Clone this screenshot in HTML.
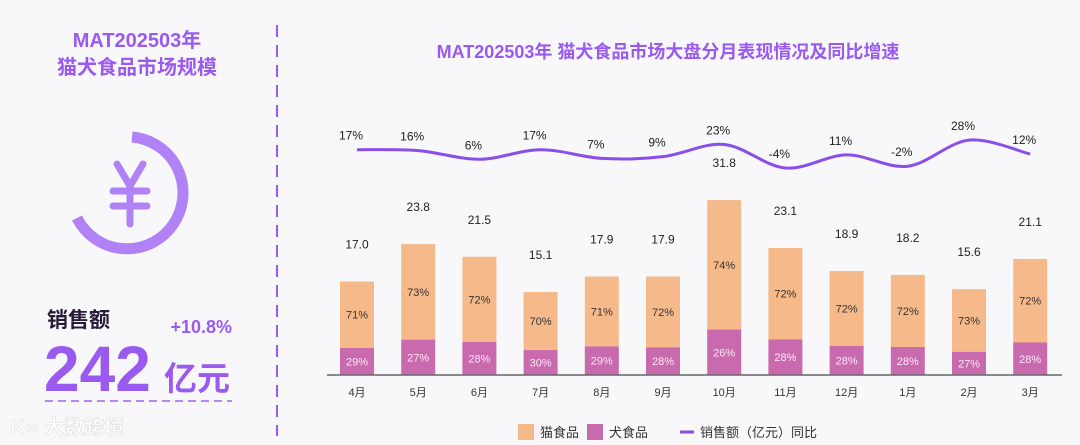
<!DOCTYPE html>
<html><head><meta charset="utf-8">
<style>
body{margin:0;width:1080px;height:445px;background:#f8f8fa;overflow:hidden;font-family:"Liberation Sans","Noto Sans CJK SC",sans-serif;}
svg{display:block}
</style></head>
<body>
<svg width="1080" height="445">
  <g>
    <text x="137" y="47" text-anchor="middle" font-size="20" font-weight="bold" fill="#9a5af0">MAT202503年</text>
    <text x="137" y="74" text-anchor="middle" font-size="20" font-weight="bold" fill="#9a5af0">猫犬食品市场规模</text>
    <path d="M132 137 A56 56 0 1 1 77 218" fill="none" stroke="#b082f5" stroke-width="11"/>
    <g stroke="#b082f5" stroke-width="7" stroke-linecap="round" fill="none">
      <path d="M117 164 L130 186 L143 164"/><path d="M130 186 L130 224"/><path d="M113 191 L147 191"/><path d="M113 206 L147 206"/>
    </g>
    <text x="47" y="327" font-size="21" font-weight="bold" fill="#2a1a3a">销售额</text>
    <text x="232" y="333" text-anchor="end" font-size="18" font-weight="bold" fill="#9a5af0">+10.8%</text>
    <text x="44" y="391" font-size="64" font-weight="bold" fill="#9a5af0">242</text>
    <text x="164" y="390" font-size="33" font-weight="bold" fill="#9a5af0">亿元</text>
    <line x1="45" y1="401" x2="232" y2="401" stroke="#b48af0" stroke-width="2" stroke-dasharray="8,5"/>
    <text x="10" y="434" font-size="20" font-weight="bold" fill="#ffffff" stroke="#ddd" stroke-width="0.6">K∞ 大数跨境</text>
  </g>
  <line x1="277" y1="25" x2="277" y2="436" stroke="#9a5af0" stroke-width="2" stroke-dasharray="12,8"/>
  <text x="668" y="58" text-anchor="middle" font-size="18" font-weight="bold" fill="#9a5af0">MAT202503年 猫犬食品市场大盘分月表现情况及同比增速</text>
  <g id="plot"></g>
  <g>
    <rect x="518" y="424" width="16" height="16" fill="#f5b98a"/>
    <text x="540" y="437" font-size="13" fill="#333">猫食品</text>
    <rect x="587" y="424" width="16" height="16" fill="#c96aae"/>
    <text x="609" y="437" font-size="13" fill="#333">犬食品</text>
    <line x1="680" y1="432" x2="694" y2="432" stroke="#8a4fe8" stroke-width="3"/>
    <text x="700" y="437" font-size="13" fill="#333">销售额（亿元）同比</text>
  </g>
</svg>
<script>
const months=["4月","5月","6月","7月","8月","9月","10月","11月","12月","1月","2月","3月"];
const totals=[17.0,23.8,21.5,15.1,17.9,17.9,31.8,23.1,18.9,18.2,15.6,21.1];
const catPct=[71,73,72,70,71,72,74,72,72,72,73,72];
const dogPct=[29,27,28,30,29,28,26,28,28,28,27,28];
const yoy=[17,16,6,17,7,9,23,-4,11,-2,28,12];
const NS="http://www.w3.org/2000/svg";
const plot=document.getElementById('plot');
const baseY=375, scale=5.5;
const xOf=i=>357+i*61.2;
const yBar=v=>baseY-v*scale;
const yLine=v=>164.5-0.87*v;
function mk(tag,attrs,txt){const e=document.createElementNS(NS,tag);for(const k in attrs)e.setAttribute(k,attrs[k]);if(txt!==undefined)e.textContent=txt;plot.appendChild(e);return e;}
const bw=34;
months.forEach((m,i)=>{
  const x=xOf(i), top=yBar(totals[i]);
  const dogH=totals[i]*dogPct[i]/100*scale;
  const catBottom=baseY-dogH;
  let r=mk('rect',{x:x-bw/2,y:top,width:bw,height:catBottom-top,fill:'#f5b98a'});
  
  
  r=mk('rect',{x:x-bw/2,y:catBottom,width:bw,height:dogH,fill:'#c96aae'});
  
  
  let t=mk('text',{x:x,y:(top+catBottom)/2+4,'text-anchor':'middle','font-size':11,fill:'#333'},catPct[i]+'%');
  
  
  t=mk('text',{x:x,y:(catBottom+baseY)/2+4,'text-anchor':'middle','font-size':11,fill:'#fde8f4'},dogPct[i]+'%');
  
  
  t=mk('text',{x:x,y:top-33,'text-anchor':'middle','font-size':12,fill:'#222'},totals[i].toFixed(1));
  
  
  t=mk('text',{x:x,y:396,'text-anchor':'middle','font-size':11,fill:'#333'},m);
  
  
});
let ax=mk('line',{x1:327,y1:baseY,x2:1062,y2:baseY,stroke:'#666','stroke-width':1.5});


const pts=yoy.map((v,i)=>[xOf(i),yLine(v)]);
let d='M'+pts[0][0]+' '+pts[0][1];
for(let i=0;i<pts.length-1;i++){
  const p0=pts[Math.max(0,i-1)],p1=pts[i],p2=pts[i+1],p3=pts[Math.min(pts.length-1,i+2)];
  const c1=[p1[0]+(p2[0]-p0[0])/6,p1[1]+(p2[1]-p0[1])/6];
  const c2=[p2[0]-(p3[0]-p1[0])/6,p2[1]-(p3[1]-p1[1])/6];
  d+=` C${c1[0]} ${c1[1]},${c2[0]} ${c2[1]},${p2[0]} ${p2[1]}`;
}
let ln=mk('path',{d:d,fill:'none',stroke:'#8a4fe8','stroke-width':3});


yoy.forEach((v,i)=>{
  const t=mk('text',{x:xOf(i)-6,y:yLine(v)-10,'text-anchor':'middle','font-size':12,fill:'#222'},v+'%');
  
  
});
</script>
</body></html>
